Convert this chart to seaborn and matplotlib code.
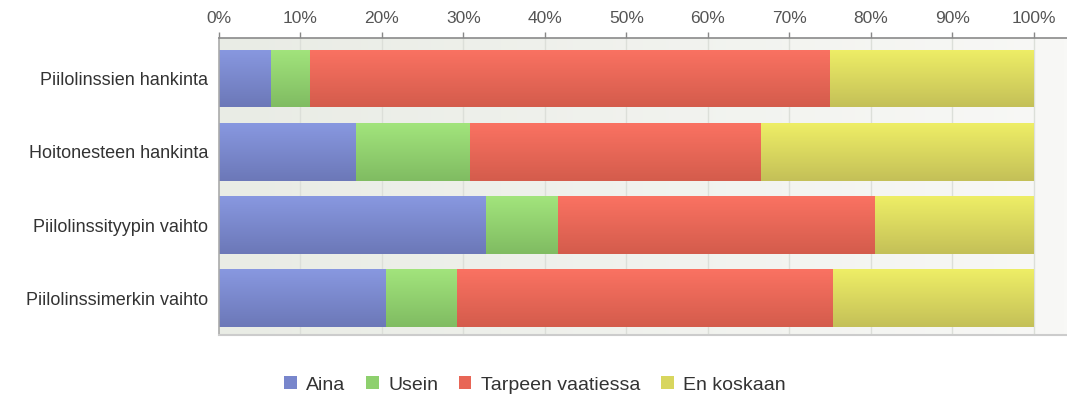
import numpy as np
import pandas as pd
import matplotlib
matplotlib.use("Agg")
import matplotlib.pyplot as plt
import matplotlib.colors as mcolors
from matplotlib.patches import Patch
import seaborn as sns

# Data (percent of answers per question)
questions = ['Piilolinssien hankinta', 'Hoitonesteen hankinta',
             'Piilolinssityypin vaihto', 'Piilolinssimerkin vaihto']
answers = ['Aina', 'Usein', 'Tarpeen vaatiessa', 'En koskaan']
aina = [6.3, 16.8, 32.7, 20.4]
usein = [4.8, 14.0, 8.8, 8.8]
tarpeen = [63.9, 35.7, 39.0, 46.1]
en_koskaan = [25.0, 33.5, 19.5, 24.7]

# gradient colours (top, bottom) per answer, legend colour
top_cols = ['#8898e0', '#a2e47c', '#fa7262', '#eeee66']
bot_cols = ['#6c78b8', '#80bc62', '#d45c4c', '#c4c058']
leg_cols = ['#7886cc', '#8ed06e', '#e86656', '#d8d65e']

df = pd.DataFrame({'Question': questions, 'Aina': aina, 'Usein': usein,
                   'Tarpeen vaatiessa': tarpeen, 'En koskaan': en_koskaan})
cum = df[answers].cumsum(axis=1)
long = cum.assign(Question=df['Question']).melt(id_vars='Question', var_name='Answer', value_name='Cum')

sns.set_theme(style="white")
plt.rcParams['font.family'] = ['Liberation Sans', 'DejaVu Sans']

fig = plt.figure(figsize=(10.67, 4.01), dpi=100)
W, H = 1067, 401
ax = fig.add_axes([219 / W, 1 - 335 / H, (1067 - 219) / W, (335 - 37.5) / H])

# draw stacked bars from the right-most cumulative segment to the left
patch_cols = []
for i in reversed(range(len(answers))):
    n_before = len(ax.patches)
    sub = long[long['Answer'] == answers[i]]
    sns.barplot(data=sub, x='Cum', y='Question', order=questions, orient='h',
                color=leg_cols[i], width=0.79, ax=ax, linewidth=0, zorder=3)
    for p in ax.patches[n_before:]:
        patch_cols.append((p, top_cols[i], bot_cols[i]))

xmax = 104.1
ax.set_xlim(0, xmax)
ax.set_ylim(3.5, -0.56)

# vertical gradient on each bar
for p, c_top, c_bot in patch_cols:
    x0, y0 = p.get_x(), p.get_y()
    w, h = p.get_width(), p.get_height()
    cmap = mcolors.LinearSegmentedColormap.from_list('g', [c_top, c_bot])
    grad = np.linspace(0, 1, 64).reshape(-1, 1)
    im = ax.imshow(grad, cmap=cmap, aspect='auto', extent=[x0, x0 + w, y0 + h, y0],
                   interpolation='bilinear', zorder=3.5)
    im.set_clip_path(p)

# plot background: light horizontal gradient
bg = np.linspace(0, 1, 256).reshape(1, -1)
bg_cmap = mcolors.LinearSegmentedColormap.from_list('bg', ['#e9ece5', '#f8f8f6'])
ax.imshow(bg, cmap=bg_cmap, aspect='auto', extent=[0, xmax, 3.5, -0.56], zorder=0)
ax.set_xlim(0, xmax)
ax.set_ylim(3.5, -0.56)

# grid lines up to 100 %
for v in range(10, 101, 10):
    ax.axvline(v, color='#dcdfd9', lw=1, zorder=1)

ax.set_xticks(range(0, 101, 10))
ax.set_xticklabels([f'{v}%' for v in range(0, 101, 10)])
ax.xaxis.tick_top()
ax.tick_params(axis='x', which='both', top=True, bottom=False, length=4, width=1,
               color='#888888', labelsize=12.5, labelcolor='#555555', pad=4)
ax.tick_params(axis='y', left=False, length=0, labelsize=13, labelcolor='#333333', pad=8)
ax.set_xlabel('')
ax.set_ylabel('')

ax.spines['right'].set_visible(False)
ax.spines['top'].set_color('#8a8a8a')
ax.spines['top'].set_linewidth(1.2)
ax.spines['left'].set_color('#aaaaaa')
ax.spines['left'].set_linewidth(1.2)
ax.spines['bottom'].set_color('#cccccc')
ax.spines['bottom'].set_linewidth(1.5)
for s in ax.spines.values():
    s.set_zorder(5)

handles = [Patch(facecolor=c, edgecolor='none') for c in leg_cols]
fig.legend(handles, answers, loc='center', bbox_to_anchor=(535 / W, 1 - 385 / H),
           ncol=4, frameon=False, fontsize=14, handlelength=0.65, handleheight=0.65,
           handletextpad=0.5, columnspacing=1.05, labelcolor='#333333')

fig.savefig('out.png', dpi=100)
